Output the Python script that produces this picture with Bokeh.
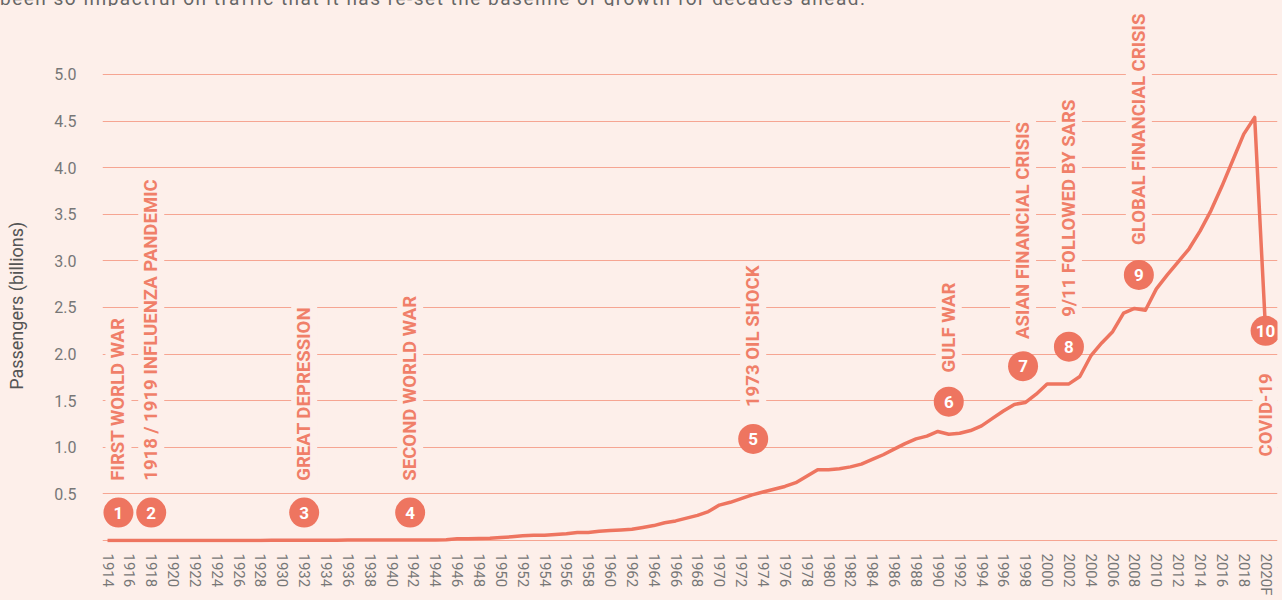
import numpy as np
from bokeh.plotting import figure
from bokeh.layouts import column
from bokeh.models import (ColumnDataSource, FixedTicker, Range1d, Div,
                          PrintfTickFormatter, GlobalInlineStyleSheet)
from bokeh.core.properties import value
from bokeh.embed import file_html
from bokeh.resources import INLINE

# ---------------- data ----------------
years = list(range(1914, 2021))
passengers = [
    0.0, 0.0, 0.0, 0.0, 0.0, 0.0,                                   # 1914-1919
    0.0, 0.0, 0.0, 0.0, 0.0, 0.001, 0.001, 0.001, 0.001, 0.002,     # 1920-1929
    0.002, 0.002, 0.002, 0.003, 0.003, 0.003, 0.004, 0.004, 0.005, 0.005,  # 1930-1939
    0.004, 0.004, 0.004, 0.005, 0.005, 0.008, 0.018, 0.020, 0.021, 0.024,  # 1940-1949
    0.031, 0.040, 0.050, 0.055, 0.057, 0.065, 0.072, 0.085, 0.087, 0.100,  # 1950-1959
    0.106, 0.112, 0.120, 0.140, 0.160, 0.190, 0.210, 0.240, 0.270, 0.310,  # 1960-1969
    0.380, 0.410, 0.450, 0.490, 0.520, 0.550, 0.580, 0.620, 0.690, 0.760,  # 1970-1979
    0.760, 0.770, 0.790, 0.820, 0.870, 0.920, 0.980, 1.040, 1.090, 1.120,  # 1980-1989
    1.170, 1.140, 1.150, 1.180, 1.230, 1.310, 1.390, 1.460, 1.480, 1.570,  # 1990-1999
    1.680, 1.680, 1.680, 1.760, 1.980, 2.120, 2.240, 2.440, 2.490, 2.470,  # 2000-2009
    2.700, 2.850, 2.990, 3.130, 3.320, 3.540, 3.800, 4.080, 4.360, 4.540,  # 2010-2019
    2.250,                                                          # 2020F
]

event_numbers = ["1", "2", "3", "4", "5", "6", "7", "8", "9", "10"]
event_names = [
    "FIRST WORLD WAR", "1918 / 1919 INFLUENZA PANDEMIC", "GREAT DEPRESSION",
    "SECOND WORLD WAR", "1973 OIL SHOCK", "GULF WAR", "ASIAN FINANCIAL CRISIS",
    "9/11 FOLLOWED BY SARS", "GLOBAL FINANCIAL CRISIS", "COVID-19",
]
event_x = [1915, 1918, 1932, 1941.7, 1973.1, 1991, 1997.8, 2002, 2008.4, 2020]
event_marker_y = [0.30, 0.30, 0.30, 0.30, 1.09, 1.49, 1.87, 2.08, 2.85, 2.25]
event_label_y = [0.62, 0.62, 0.62, 0.62, 1.41, 1.78, 2.14, 2.38, 3.15, 0.88]

y_ticks = [0.0, 0.5, 1.0, 1.5, 2.0, 2.5, 3.0, 3.5, 4.0, 4.5, 5.0]
x_ticks = list(range(1914, 2021, 2))
x_tick_overrides = {2020: "2020F"}

y_title = "Passengers (billions)"
intro_text = "been so impactful on traffic that it has re-set the baseline of growth for decades ahead."

# ---------------- style ----------------
BG = "#FDEFEA"
LINE = "#EE7560"
LABEL = "#F07F69"
GRID = "#F6A592"
TICK = "#777777"
FONT = "Roboto"

W = 1282
DIV_H = 6
H = 600 - DIV_H
LEFT, RIGHT, TOP, BOTTOM = 102, 5, 0, 58
X0, X1 = 1913.54, 2021.09
Y0, Y1 = -0.0215, 5.7296

intro = Div(
    text=(f'<div style="position:absolute; top:-11px; left:0px; font-family:{FONT}; '
          f'font-size:19px; line-height:19px; letter-spacing:1.5px; '
          f'color:#666666; white-space:nowrap;">{intro_text}</div>'),
    width=W, height=DIV_H, margin=0,
    styles={"overflow": "hidden", "background-color": BG, "position": "relative"},
)

p = figure(width=W, height=H, output_backend="svg", toolbar_location=None,
           x_range=Range1d(X0, X1), y_range=Range1d(Y0, Y1),
           min_border_left=LEFT, min_border_right=RIGHT,
           min_border_top=TOP, min_border_bottom=BOTTOM,
           background_fill_color=BG, border_fill_color=BG,
           outline_line_color=None, margin=0)

p.xgrid.visible = False
p.ygrid.grid_line_color = GRID
p.ygrid.grid_line_width = 1.2

p.yaxis.ticker = FixedTicker(ticks=y_ticks)
p.yaxis.formatter = PrintfTickFormatter(format="%.1f")
p.yaxis.major_label_overrides = {0: ""}
# trailing no-break spaces move the centred title down to where the reference has it
p.yaxis.axis_label = y_title + "\u00a0" * 14
p.yaxis.axis_label_text_font = FONT
p.yaxis.axis_label_text_font_style = "normal"
p.yaxis.axis_label_text_font_size = "18px"
p.yaxis.axis_label_text_color = "#555555"
p.yaxis.axis_label_standoff = 24
p.yaxis.major_label_standoff = 26

p.xaxis.ticker = FixedTicker(ticks=x_ticks)
p.xaxis.major_label_overrides = x_tick_overrides
p.xaxis.major_label_orientation = "vertical"
p.xaxis.major_label_standoff = 11

for ax in (p.xaxis, p.yaxis):
    ax.axis_line_color = None
    ax.major_tick_line_color = None
    ax.minor_tick_line_color = None
    ax.major_tick_out = 0
    ax.major_label_text_font = FONT
    ax.major_label_text_font_size = "15px"
    ax.major_label_text_color = TICK
p.yaxis.major_label_text_font_size = "16px"

# main series
p.line(years, passengers, line_width=3.5, line_color=LINE, line_join="round")

# event markers and labels
ev = ColumnDataSource(dict(x=event_x, my=event_marker_y, ly=event_label_y,
                           num=event_numbers, name=event_names))
p.text(x="x", y="ly", text="name", source=ev, angle=np.pi / 2,
       text_align="left", text_baseline="middle",
       text_font=value(FONT), text_font_style="bold", text_font_size="18.6px",
       text_color=LABEL, background_fill_color=BG, padding=2)
p.scatter(x="x", y="my", source=ev, size=30, marker="circle",
          fill_color=LINE, line_color=None)
p.text(x="x", y="my", text="num", source=ev, text_align="center",
       text_baseline="middle", text_font=value(FONT), text_font_style="bold",
       text_font_size="17px", text_color="white")

layout = column(intro, p, spacing=0, margin=0,
                stylesheets=[GlobalInlineStyleSheet(
                    css=f"body {{ margin: 0; background: {BG}; overflow: hidden; }}")])

open("out.html", "w").write(file_html(layout, INLINE))
